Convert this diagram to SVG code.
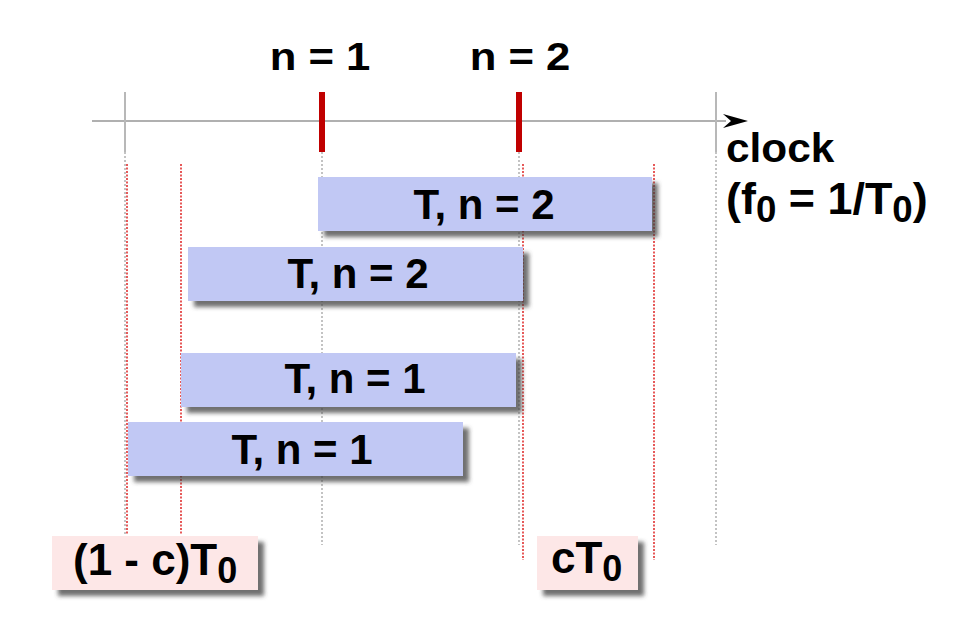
<svg xmlns="http://www.w3.org/2000/svg" width="960" height="635" viewBox="0 0 960 635">
<defs>
<filter id="sh" x="-10%" y="-20%" width="130%" height="160%">
<feDropShadow dx="6" dy="6" stdDeviation="2.2" flood-color="#404040" flood-opacity="0.75"/>
</filter>
<style>
.t{font-family:"Liberation Sans",Arial,sans-serif;font-weight:bold;fill:#000}
.bar{fill:#c1c8f4;filter:url(#sh)}
.lbl{fill:#fde7e7;filter:url(#sh)}
.gd{stroke:#b0b0b0;stroke-width:1.5;stroke-dasharray:2 2;fill:none}
.rd{stroke:#e03030;stroke-width:1.6;stroke-dasharray:2 1.5;fill:none}
.gt{stroke:#b8b8b8;stroke-width:2}
.rt{stroke:#c00000;stroke-width:6}
</style>
</defs>
<rect width="960" height="635" fill="#fff"/>
<g id="connectors">
<line x1="125" y1="152" x2="125" y2="540" class="gd"/>
<line x1="322" y1="152" x2="322" y2="545" class="gd"/>
<line x1="519" y1="152" x2="519" y2="545" class="gd"/>
<line x1="716" y1="152" x2="716" y2="545" class="gd"/>
<line x1="127" y1="164" x2="127" y2="535" class="rd"/>
<line x1="181" y1="164" x2="181" y2="535" class="rd"/>
<line x1="523" y1="164" x2="523" y2="560" class="rd"/>
<line x1="654" y1="164" x2="654" y2="560" class="rd"/>
<line x1="92" y1="121" x2="726" y2="121" stroke="#b0b0b0" stroke-width="2"/>
<line x1="125" y1="92" x2="125" y2="152" class="gt"/>
<line x1="716" y1="92" x2="716" y2="152" class="gt"/>
<line x1="322" y1="92" x2="322" y2="152" class="rt"/>
<line x1="519" y1="92" x2="519" y2="152" class="rt"/>
<path d="M723,114 L748,121 L723,128 L731,121 Z" fill="#000"/>
</g>
<g id="label-n1"><text class="t" font-size="39" text-anchor="middle" transform="translate(320,70) scale(1.12,1)">n = 1</text></g>
<g id="label-n2"><text class="t" font-size="39" text-anchor="middle" transform="translate(520,70) scale(1.12,1)">n = 2</text></g>
<g id="label-clock">
<text class="t" font-size="40" transform="translate(726,162) scale(1.06,1)">clock</text>
<text class="t" font-size="44" transform="translate(726,214) scale(1.02,1)">(f<tspan font-size="36" dy="8">0</tspan><tspan dy="-8"> = 1/T</tspan><tspan font-size="36" dy="8">0</tspan><tspan dy="-8">)</tspan></text>
</g>
<g id="bar1"><rect class="bar" x="318" y="177" width="334" height="54"/><text class="t" font-size="42" x="484" y="219" text-anchor="middle">T, n = 2</text></g>
<g id="bar2"><rect class="bar" x="188" y="247" width="335" height="54"/><text class="t" font-size="42" x="358" y="288" text-anchor="middle">T, n = 2</text></g>
<g id="bar3"><rect class="bar" x="181" y="353" width="335" height="54"/><text class="t" font-size="42" x="355" y="393" text-anchor="middle">T, n = 1</text></g>
<g id="bar4"><rect class="bar" x="128" y="422" width="335" height="54"/><text class="t" font-size="42" x="302" y="464" text-anchor="middle">T, n = 1</text></g>
<g id="label-1mc"><rect class="lbl" x="52" y="536" width="206" height="54"/><text class="t" font-size="44" x="73" y="575">(1 - c)T<tspan font-size="36" dy="8">0</tspan></text></g>
<g id="label-cT0"><rect class="lbl" x="537" y="536" width="101" height="54"/><text class="t" font-size="44" x="551" y="573">cT<tspan font-size="36" dy="8">0</tspan></text></g>
</svg>
